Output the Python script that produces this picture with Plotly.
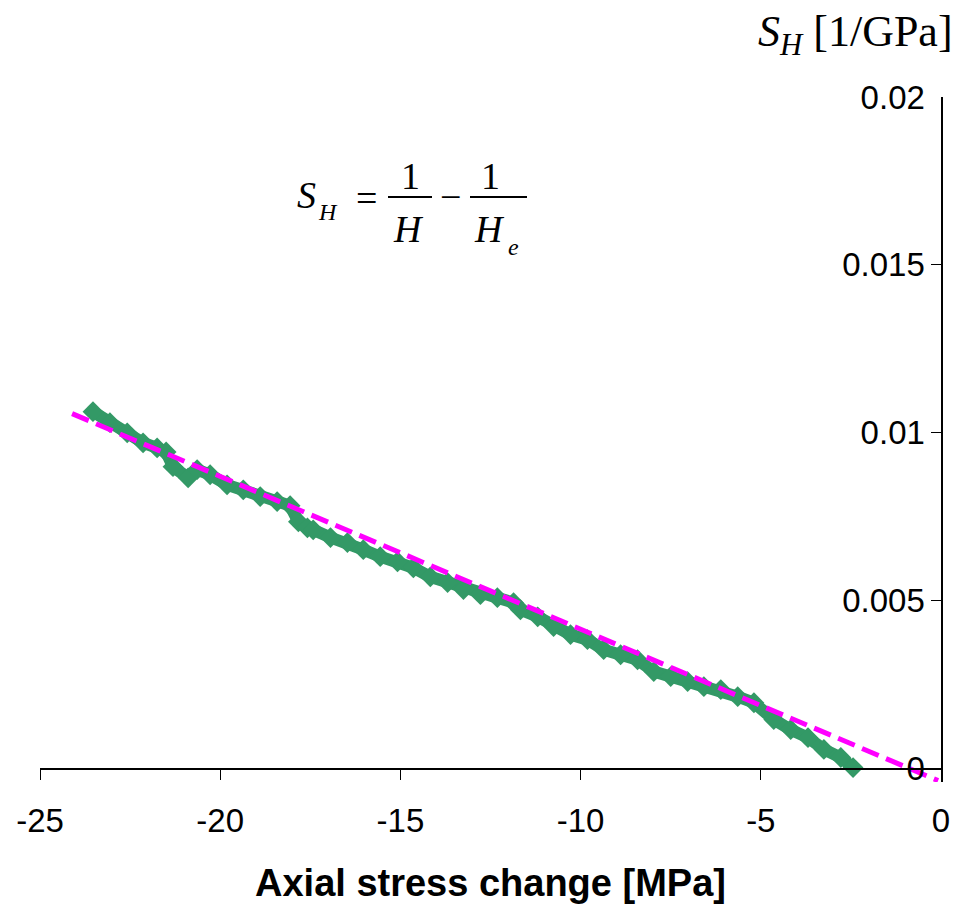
import plotly.graph_objects as go

# ---- data ----
stress_change = [-23.53, -23.06, -22.58, -22.14, -21.75, -21.50, -21.31, -20.89, -20.64,
                 -20.28, -19.81, -19.36, -18.89, -18.42, -18.06, -17.83, -17.58, -17.42,
                 -16.94, -16.47, -16.03, -15.56, -15.08, -14.64, -14.17, -13.69, -13.25,
                 -12.78, -12.31, -11.86, -11.67, -11.19, -10.75, -10.28, -9.81, -9.36,
                 -8.89, -8.42, -7.97, -7.50, -7.03, -6.58, -6.11, -5.64, -5.19, -4.64,
                 -4.17, -3.69, -3.25, -2.78, -2.44]
s_h = [0.01063, 0.01030, 0.01000, 0.00970, 0.00955, 0.00943, 0.00899, 0.00866, 0.00890,
       0.00875, 0.00845, 0.00830, 0.00810, 0.00795, 0.00783, 0.00735, 0.00717, 0.00711,
       0.00688, 0.00673, 0.00652, 0.00631, 0.00616, 0.00598, 0.00571, 0.00554, 0.00533,
       0.00518, 0.00509, 0.00494, 0.00473, 0.00452, 0.00423, 0.00399, 0.00384, 0.00354,
       0.00339, 0.00324, 0.00289, 0.00274, 0.00259, 0.00244, 0.00235, 0.00214, 0.00196,
       0.00146, 0.00116, 0.00092, 0.00057, 0.00033, 0.00003]

fit_x = [-24.11, -0.08]
fit_y = [0.01057, -0.00036]

x_ticks = [-25, -20, -15, -10, -5, 0]
x_tick_labels = ["-25", "-20", "-15", "-10", "-5", "0"]
y_ticks = [0, 0.005, 0.01, 0.015, 0.02]
y_tick_labels = ["0", "0.005", "0.01", "0.015", "0.02"]
x_range = [-25, 0]
y_range = [-0.0004, 0.02]

SANS = "Liberation Sans, Arial, sans-serif"
SERIF = "Liberation Serif, Times New Roman, serif"

fig = go.Figure()
fig.add_trace(go.Scatter(
    x=stress_change, y=s_h, mode="lines+markers",
    line=dict(color="#339966", width=12),
    marker=dict(symbol="diamond", size=16, color="#339966"),
    showlegend=False, cliponaxis=False))
fig.add_trace(go.Scatter(
    x=fit_x, y=fit_y, mode="lines",
    line=dict(color="#FF00FF", width=5, dash="18px,8px"),
    showlegend=False))

W, H = 974, 909
ml, mr, mt = 40, 33, 97
plot_h = 672 * (y_range[1] - y_range[0]) / 0.02
mb = H - mt - plot_h
plot_w = W - ml - mr

zero_pos = (0 - y_range[0]) / (y_range[1] - y_range[0])

fig.update_layout(
    width=W, height=H,
    margin=dict(l=ml, r=mr, t=mt, b=mb),
    paper_bgcolor="white", plot_bgcolor="white",
    xaxis=dict(range=x_range, tickvals=x_ticks, ticktext=x_tick_labels,
               ticks="outside", ticklen=11,
               tickcolor="black", showline=True, linecolor="black", linewidth=1.5,
               showgrid=False, zeroline=False, anchor="free", position=zero_pos,
               tickfont=dict(family=SANS, size=33, color="black"),
               ticklabelstandoff=12, ticklabeloverflow="allow"),
    yaxis=dict(range=y_range, tickvals=y_ticks, ticktext=y_tick_labels,
               side="right", ticks="inside", ticklen=10,
               tickcolor="black", showline=True, linecolor="black", linewidth=1.5,
               showgrid=False, zeroline=False, ticklabelposition="inside",
               tickfont=dict(family=SANS, size=33, color="black"),
               ticklabelstandoff=10, ticklabeloverflow="allow"),
)

def px2paper(px, py):
    return (px - ml) / plot_w, (mt + plot_h - py) / plot_h

def note(text, px, py, size, family=SERIF, xanchor="center", yanchor="middle"):
    x, y = px2paper(px, py)
    fig.add_annotation(text=text, x=x, y=y, xref="paper", yref="paper",
                       xanchor=xanchor, yanchor=yanchor, showarrow=False,
                       font=dict(family=family, size=size, color="black"))

# axis titles
note("<b>Axial stress change [MPa]</b>", 490, 884, 38, family=SANS)
note("<i>S</i><sub><i>H</i></sub> [1/GPa]", 955, 34, 44, xanchor="right")

# equation S_H = 1/H - 1/H_e
note("<i>S</i>", 306, 195, 38)
note("<i>H</i>", 328, 212, 24)
note("=", 366, 198, 38)
note("1", 410, 176, 38)
note("<i>H</i>", 408, 229, 38)
note("\u2212", 450, 197, 38)
note("1", 490, 176, 38)
note("<i>H</i>", 489, 229, 38)
note("<i>e</i>", 513, 247, 24)
for x0, x1 in [(388, 432), (470, 527)]:
    a0, b0 = px2paper(x0, 197)
    a1, _ = px2paper(x1, 197)
    fig.add_shape(type="line", x0=a0, x1=a1, y0=b0, y1=b0, xref="paper", yref="paper",
                  line=dict(color="black", width=2))

fig.write_html("out.html")
